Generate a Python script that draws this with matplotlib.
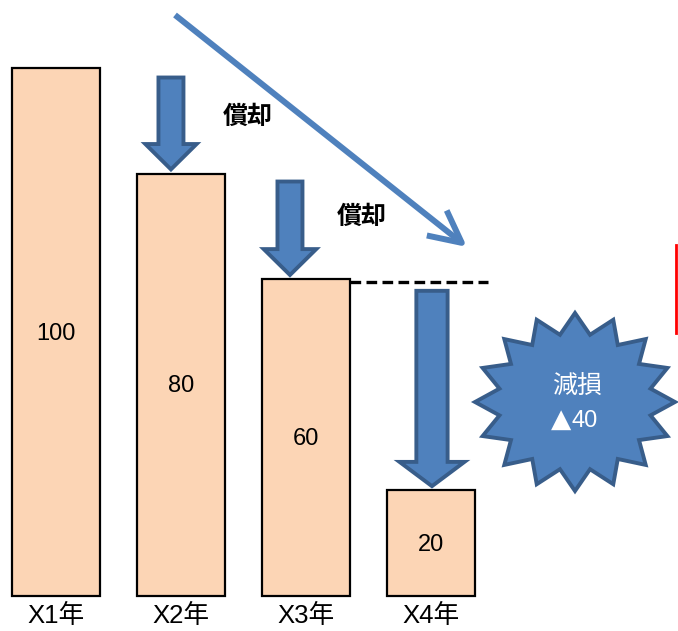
import numpy as np
import matplotlib
matplotlib.use("Agg")
import matplotlib.pyplot as plt
from matplotlib.patches import Polygon, FancyArrowPatch
from matplotlib.transforms import Affine2D

# data
years = ["X1年", "X2年", "X3年", "X4年"]
book_values = [100, 80, 60, 20]
loss_label = "減損"
loss_value = "40"
dep_label = "償却"

W, H = 678, 631
fig = plt.figure(figsize=(W / 100, H / 100), dpi=100)
ax = fig.add_axes([0, 0, 1, 1])
ax.set_xlim(-0.4496, 4.974)
ax.set_ylim(-6.63, 112.88)
ax.axis("off")

# pixel coords (y down) for the decorations
px = Affine2D().scale(1 / W, -1 / H).translate(0, 1) + fig.transFigure

fill = "#4F81BD"
edge = "#385D8A"
jp = ["Liberation Sans", "Noto Sans CJK JP", "DejaVu Sans"]

x = np.arange(len(years))
ax.bar(x, book_values, width=0.705, color="#FCD5B5", edgecolor="black", linewidth=1.6, zorder=2)
for xi, v in zip(x, book_values):
    ax.text(xi, v / 2 - 0.3, str(v), ha="center", va="center", fontsize=17, family=jp, zorder=3)
    ax.text(xi, -3.7, years[xi], ha="center", va="center", fontsize=18.5, family=jp)


def block_arrow(xc, top, tip, shaft_w, head_w, head_len):
    pts = [(xc - shaft_w / 2, top), (xc + shaft_w / 2, top),
           (xc + shaft_w / 2, tip + head_len), (xc + head_w / 2, tip + head_len),
           (xc, tip), (xc - head_w / 2, tip + head_len),
           (xc - shaft_w / 2, tip + head_len)]
    ax.add_patch(Polygon(pts, closed=True, facecolor=fill, edgecolor=edge,
                         linewidth=2.8, joinstyle="miter", zorder=4))


# depreciation / impairment arrows between bars
block_arrow(0.918, book_values[0] - 1.8, book_values[1] + 0.8, 0.2, 0.41, 4.8)
block_arrow(1.870, book_values[1] - 1.5, book_values[2] + 0.8, 0.2, 0.42, 4.9)
block_arrow(3.006, book_values[2] - 2.2, book_values[3] + 0.8, 0.25, 0.52, 4.6)

ax.plot([2.35, 3.454], [book_values[2] - 0.6] * 2, color="black", lw=2.4,
        dashes=(3.2, 1.6), zorder=3)

ax.text(248, 117, dep_label, transform=px, ha="center", va="center", fontsize=18,
        weight="bold", family=["Noto Sans CJK JP"])
ax.text(362, 217, dep_label, transform=px, ha="center", va="center", fontsize=18,
        weight="bold", family=["Noto Sans CJK JP"])

# long trend arrow
ax.add_patch(FancyArrowPatch((175, 15), (467, 247), transform=px,
                             arrowstyle="->,head_length=23,head_width=11.5",
                             mutation_scale=1, color=fill, lw=4.3,
                             shrinkA=0, shrinkB=0, capstyle="butt", zorder=5))

# starburst
n = 16
ang = np.pi / 2 - np.arange(2 * n) * np.pi / n
r = np.where(np.arange(2 * n) % 2 == 0, 1.0, 0.77)
cx, cy = 575, 402
star = np.c_[cx + 100 * r * np.cos(ang), cy - 89 * r * np.sin(ang)]
ax.add_patch(Polygon(star, closed=True, transform=px, facecolor=fill, edgecolor=edge,
                     linewidth=2.8, joinstyle="miter", zorder=4))
ax.text(577, 386, loss_label, transform=px, ha="center", va="center", fontsize=18,
        color="white", family=["Noto Sans CJK JP"], zorder=6)
ax.text(571, 420, "▲", transform=px, ha="right", va="center", fontsize=19,
        color="white", family=["DejaVu Sans"], zorder=6)
ax.text(572, 421, loss_value, transform=px, ha="left", va="center", fontsize=17,
        color="white", family=jp, zorder=6)

ax.plot([676, 676], [245, 333], transform=px, color="red", lw=2.0)

fig.savefig("out.png", dpi=100)
